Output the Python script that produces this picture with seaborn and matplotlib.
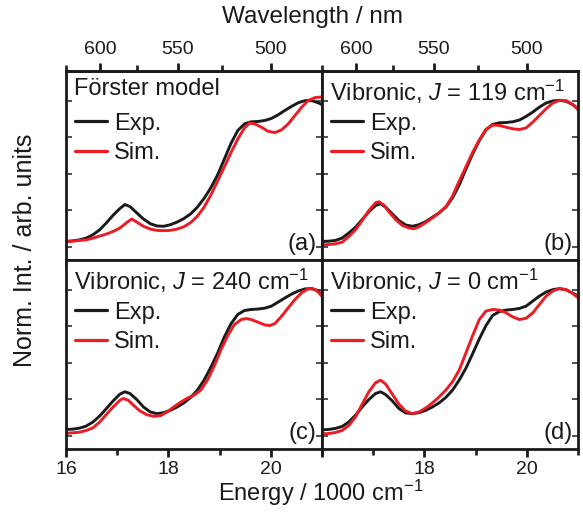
import numpy as np
import pandas as pd
import matplotlib
matplotlib.use("Agg")
import matplotlib.pyplot as plt
from matplotlib.ticker import FixedLocator, NullFormatter, MultipleLocator
from matplotlib.lines import Line2D
import seaborn as sns

# ---- spectra: energy (1000 cm^-1) and normalised intensity ----
# (a) Förster model
a_exp_E = [16.000, 16.132, 16.263, 16.395, 16.526, 16.658, 16.789, 16.921, 17.053, 17.151,
           17.250, 17.382, 17.513, 17.645, 17.776, 17.908, 18.039, 18.171, 18.303, 18.434,
           18.566, 18.697, 18.829, 18.961, 19.092, 19.224, 19.355, 19.487, 19.618, 19.750,
           19.882, 20.013, 20.145, 20.276, 20.408, 20.539, 20.671, 20.803, 20.934, 21.000]
a_exp_I = [0.035, 0.039, 0.046, 0.058, 0.081, 0.115, 0.162, 0.215, 0.261, 0.288,
           0.274, 0.231, 0.189, 0.157, 0.141, 0.139, 0.150, 0.168, 0.192, 0.224,
           0.270, 0.330, 0.403, 0.491, 0.599, 0.708, 0.795, 0.841, 0.855, 0.857,
           0.864, 0.878, 0.903, 0.933, 0.961, 0.986, 1.000, 1.000, 0.984, 0.972]
a_sim_E = [16.000, 16.132, 16.263, 16.395, 16.526, 16.658, 16.789, 16.921, 17.053, 17.184,
           17.283, 17.382, 17.513, 17.645, 17.776, 17.908, 18.039, 18.171, 18.303, 18.434,
           18.566, 18.697, 18.829, 18.961, 19.092, 19.224, 19.355, 19.487, 19.586, 19.684,
           19.816, 19.947, 20.079, 20.211, 20.342, 20.474, 20.605, 20.737, 20.868, 21.000]
a_sim_I = [0.035, 0.037, 0.042, 0.046, 0.058, 0.072, 0.086, 0.104, 0.127, 0.164,
           0.189, 0.168, 0.139, 0.120, 0.111, 0.109, 0.111, 0.120, 0.136, 0.164,
           0.208, 0.270, 0.353, 0.449, 0.546, 0.645, 0.737, 0.813, 0.846, 0.841,
           0.818, 0.790, 0.781, 0.800, 0.841, 0.899, 0.956, 1.002, 1.021, 1.025]

# (b) vibronic, J = 119 cm^-1
b_exp_E = [16.000, 16.131, 16.261, 16.392, 16.523, 16.654, 16.784, 16.915, 17.046, 17.144,
           17.242, 17.373, 17.503, 17.634, 17.765, 17.895, 18.026, 18.157, 18.288, 18.418,
           18.549, 18.680, 18.810, 18.941, 19.072, 19.203, 19.333, 19.464, 19.595, 19.725,
           19.856, 19.987, 20.118, 20.248, 20.379, 20.510, 20.641, 20.771, 20.902, 21.000]
b_exp_I = [0.035, 0.037, 0.042, 0.058, 0.093, 0.132, 0.185, 0.238, 0.281, 0.293,
           0.270, 0.224, 0.178, 0.148, 0.139, 0.150, 0.171, 0.201, 0.231, 0.270,
           0.334, 0.422, 0.530, 0.634, 0.726, 0.800, 0.837, 0.848, 0.850, 0.855,
           0.867, 0.892, 0.922, 0.956, 0.984, 0.998, 1.002, 0.995, 0.972, 0.945]
b_sim_E = [16.000, 16.131, 16.261, 16.392, 16.523, 16.654, 16.784, 16.915, 17.046, 17.111,
           17.209, 17.307, 17.438, 17.569, 17.699, 17.797, 17.895, 18.026, 18.157, 18.288,
           18.418, 18.549, 18.680, 18.810, 18.941, 19.072, 19.203, 19.333, 19.464, 19.595,
           19.725, 19.856, 19.987, 20.118, 20.248, 20.379, 20.510, 20.641, 20.771, 20.902,
           21.000]
b_sim_I = [0.012, 0.014, 0.019, 0.030, 0.069, 0.115, 0.178, 0.247, 0.300, 0.307,
           0.284, 0.238, 0.185, 0.145, 0.127, 0.122, 0.136, 0.164, 0.196, 0.231,
           0.272, 0.346, 0.449, 0.546, 0.645, 0.730, 0.804, 0.832, 0.830, 0.818,
           0.807, 0.802, 0.813, 0.853, 0.899, 0.945, 0.984, 1.002, 1.000, 0.972,
           0.938]

# (c) vibronic, J = 240 cm^-1
c_exp_E = [16.000, 16.132, 16.263, 16.395, 16.526, 16.658, 16.789, 16.921, 17.053, 17.151,
           17.250, 17.382, 17.513, 17.645, 17.776, 17.908, 18.039, 18.171, 18.303, 18.434,
           18.566, 18.697, 18.829, 18.961, 19.092, 19.224, 19.355, 19.487, 19.618, 19.750,
           19.882, 20.013, 20.145, 20.276, 20.408, 20.539, 20.671, 20.803, 20.934, 21.000]
c_exp_I = [0.042, 0.044, 0.051, 0.065, 0.093, 0.134, 0.185, 0.238, 0.284, 0.300,
           0.288, 0.247, 0.196, 0.162, 0.150, 0.157, 0.173, 0.196, 0.224, 0.261,
           0.311, 0.380, 0.468, 0.565, 0.675, 0.767, 0.830, 0.857, 0.864, 0.867,
           0.873, 0.887, 0.915, 0.943, 0.970, 0.991, 1.005, 1.007, 0.989, 0.956]
c_sim_E = [16.000, 16.132, 16.263, 16.395, 16.526, 16.658, 16.789, 16.921, 17.053, 17.118,
           17.217, 17.316, 17.447, 17.579, 17.711, 17.842, 17.974, 18.105, 18.237, 18.368,
           18.500, 18.632, 18.763, 18.895, 19.026, 19.158, 19.289, 19.421, 19.520, 19.618,
           19.750, 19.882, 19.980, 20.079, 20.211, 20.342, 20.474, 20.605, 20.737, 20.868,
           21.000]
c_sim_I = [0.016, 0.019, 0.023, 0.035, 0.053, 0.093, 0.145, 0.196, 0.242, 0.254,
           0.242, 0.208, 0.168, 0.143, 0.132, 0.136, 0.162, 0.196, 0.228, 0.256,
           0.277, 0.311, 0.380, 0.477, 0.588, 0.684, 0.761, 0.795, 0.802, 0.795,
           0.777, 0.758, 0.754, 0.767, 0.818, 0.876, 0.933, 0.979, 1.007, 1.002,
           0.956]

# (d) vibronic, J = 0 cm^-1
d_exp_E = [16.000, 16.131, 16.261, 16.392, 16.523, 16.654, 16.784, 16.915, 17.046, 17.144,
           17.242, 17.373, 17.503, 17.634, 17.765, 17.895, 18.026, 18.157, 18.288, 18.418,
           18.549, 18.680, 18.810, 18.941, 19.072, 19.203, 19.333, 19.464, 19.595, 19.725,
           19.856, 19.987, 20.118, 20.248, 20.379, 20.510, 20.641, 20.771, 20.902, 21.000]
d_exp_I = [0.039, 0.042, 0.049, 0.062, 0.093, 0.139, 0.196, 0.247, 0.288, 0.300,
           0.281, 0.238, 0.185, 0.155, 0.150, 0.157, 0.173, 0.196, 0.224, 0.261,
           0.311, 0.380, 0.461, 0.560, 0.662, 0.754, 0.823, 0.850, 0.860, 0.864,
           0.871, 0.887, 0.922, 0.956, 0.984, 1.000, 1.007, 0.998, 0.975, 0.956]
d_sim_E = [16.000, 16.131, 16.261, 16.392, 16.523, 16.654, 16.784, 16.915, 17.046, 17.144,
           17.242, 17.373, 17.503, 17.634, 17.765, 17.895, 18.026, 18.157, 18.288, 18.418,
           18.549, 18.680, 18.810, 18.941, 19.072, 19.203, 19.333, 19.464, 19.595, 19.725,
           19.856, 19.987, 20.118, 20.248, 20.379, 20.510, 20.641, 20.771, 20.902, 21.000]
d_sim_I = [0.012, 0.014, 0.021, 0.035, 0.069, 0.127, 0.215, 0.300, 0.362, 0.380,
           0.353, 0.284, 0.215, 0.168, 0.150, 0.162, 0.189, 0.224, 0.265, 0.311,
           0.369, 0.449, 0.565, 0.684, 0.795, 0.853, 0.864, 0.860, 0.841, 0.813,
           0.795, 0.804, 0.841, 0.899, 0.956, 0.991, 1.007, 1.000, 0.972, 0.945]

panel_titles = ["Förster model",
                r"Vibronic, $J$ = 119 cm$^{-1}$",
                r"Vibronic, $J$ = 240 cm$^{-1}$",
                r"Vibronic, $J$ = 0 cm$^{-1}$"]
panel_tags = ["(a)", "(b)", "(c)", "(d)"]
series_names = ["Exp.", "Sim."]
energy_ticks = [16, 18, 20]
energy_minor = [17, 19, 21]
wavelength_ticks = [600, 550, 500]
wavelength_minor = [625, 575, 525]

spectra = [
    (a_exp_E, a_exp_I, a_sim_E, a_sim_I),
    (b_exp_E, b_exp_I, b_sim_E, b_sim_I),
    (c_exp_E, c_exp_I, c_sim_E, c_sim_I),
    (d_exp_E, d_exp_I, d_sim_E, d_sim_I),
]

sns.set_theme(style="ticks")
plt.rcParams["font.family"] = ["Liberation Sans", "DejaVu Sans"]
plt.rcParams["mathtext.fontset"] = "custom"
plt.rcParams["mathtext.rm"] = "Liberation Sans"
plt.rcParams["mathtext.it"] = "Liberation Sans:italic"
plt.rcParams["axes.linewidth"] = 2.0

ink = "#1a1a1a"
palette = {"Exp.": ink, "Sim.": "#ec1c24"}

fig, axes = plt.subplots(2, 2, figsize=(5.83, 5.16), dpi=100)
fig.subplots_adjust(left=66 / 583, right=578 / 583, top=1 - 71 / 516, bottom=1 - 449 / 516,
                    wspace=0, hspace=0)

for idx, ax in enumerate(axes.flat):
    eE, eI, sE, sI = spectra[idx]
    df = pd.DataFrame({
        "energy": list(eE) + list(sE),
        "intensity": list(eI) + list(sI),
        "trace": [series_names[0]] * len(eE) + [series_names[1]] * len(sE),
    })
    sns.lineplot(data=df, x="energy", y="intensity", hue="trace", palette=palette,
                 estimator=None, sort=False, legend=False, ax=ax, linewidth=2.1)
    for ln in ax.get_lines():
        ln.set_solid_joinstyle("round")
        ln.set_solid_capstyle("round")
    ax.set_xlim(16, 21)
    ax.set_ylim(-0.092, 1.203)
    ax.set_xlabel("")
    ax.set_ylabel("")
    ax.xaxis.set_major_locator(FixedLocator(energy_ticks))
    ax.xaxis.set_minor_locator(FixedLocator(energy_minor))
    ax.yaxis.set_major_locator(MultipleLocator(0.25))
    ax.tick_params(axis="y", which="both", direction="in", left=True, right=True,
                   labelleft=False, length=4, width=1.2, color="#333333")
    ax.tick_params(axis="x", which="major", direction="out", length=6, width=2,
                   labelsize=14, pad=3, colors=ink)
    ax.tick_params(axis="x", which="minor", direction="out", length=4, width=2)
    if idx < 2:
        ax.tick_params(axis="x", labelbottom=False)
    elif idx == 3:
        # the left label of this panel would sit on its neighbour's right edge
        ax.set_xticks(energy_ticks)
        ax.set_xticklabels(["", "18", "20"])
    for sp in ax.spines.values():
        sp.set_color(ink)
        sp.set_linewidth(2.0)

    ax.text(0.03, 0.965, panel_titles[idx], transform=ax.transAxes, ha="left", va="top",
            fontsize=17, color=ink)
    ax.text(0.978, 0.025, panel_tags[idx], transform=ax.transAxes, ha="right", va="bottom",
            fontsize=17, color=ink)
    handles = [Line2D([], [], color=palette[n], lw=2.3) for n in series_names]
    ax.legend(handles, series_names, loc="upper left", bbox_to_anchor=(0.035, 0.78),
              frameon=False, fontsize=17, handlelength=1.35, handletextpad=0.3,
              labelspacing=0.31, borderaxespad=0, borderpad=0, labelcolor=ink)

    if idx < 2:
        top = ax.secondary_xaxis("top", functions=(lambda e: 1e4 / e, lambda w: 1e4 / w))
        top.xaxis.set_major_locator(FixedLocator(wavelength_ticks))
        top.xaxis.set_minor_locator(FixedLocator(wavelength_minor))
        top.xaxis.set_minor_formatter(NullFormatter())
        top.tick_params(axis="x", which="major", direction="out", length=6, width=2,
                        labelsize=14, pad=3, colors=ink)
        top.tick_params(axis="x", which="minor", direction="out", length=4, width=2)
        top.spines["top"].set_linewidth(2.0)

fig.text(321 / 583, 1 - 493 / 516, r"Energy / 1000 cm$^{-1}$", ha="center", va="center",
         fontsize=17, color=ink)
fig.text(313 / 583, 1 - 17 / 516, "Wavelength / nm", ha="center", va="center",
         fontsize=17.5, color=ink)
fig.text(25 / 583, 1 - 250 / 516, "Norm. Int. / arb. units", ha="center", va="center",
         rotation=90, fontsize=18, color=ink)

fig.savefig("out.png", dpi=100, facecolor="white")
